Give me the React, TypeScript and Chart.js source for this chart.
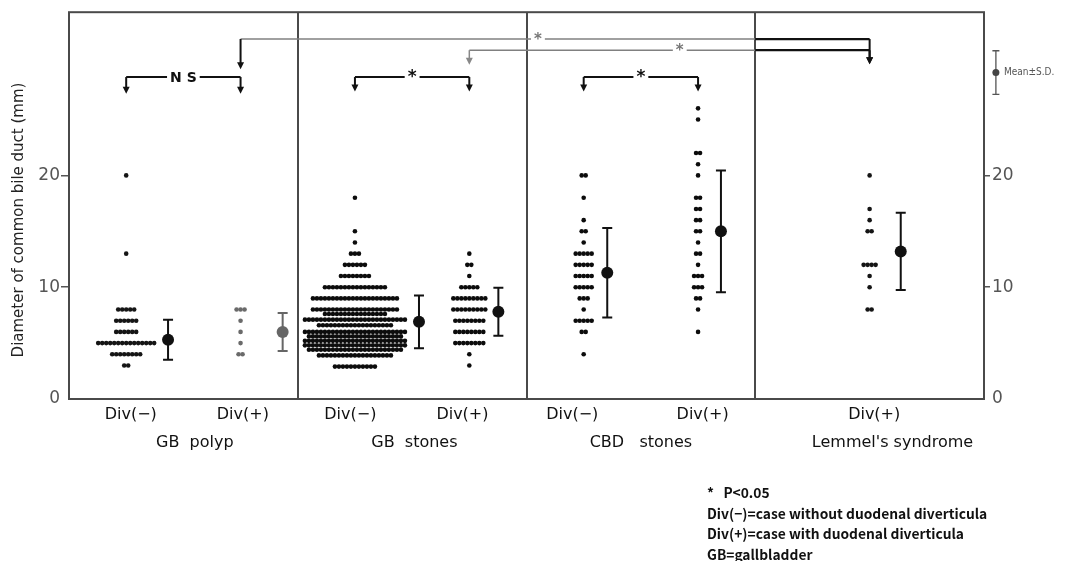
import React, { useEffect, useRef } from 'react';
import Chart from 'chart.js/auto';

// ---- axis / label data ----
const panelNames = ['GB  polyp', 'GB  stones', 'CBD   stones', "Lemmel's syndrome"];
const panelLabelAt = [0.55, 1.51, 2.5, 3.6];
const subgroupLabels = ['Div(−)', 'Div(+)', 'Div(−)', 'Div(+)', 'Div(−)', 'Div(+)', 'Div(+)'];
const subgroupLabelAt = [0.27, 0.76, 1.23, 1.72, 2.2, 2.77, 3.52];
const panelDividers = [1, 2, 3];
const yTicks = [0, 10, 20];
const yMax = 34.6;
const yTitle = 'Diameter of common bile duct (mm)';

// ---- individual cases (value in mm, number of cases at that value) ----
const groupCenters = [0.25, 0.75, 1.25, 1.75, 2.25, 2.75, 3.5];

const gbPolypNegValues = [20, 13, 8, 7, 6, 5, 4, 3];
const gbPolypNegCounts = [1, 1, 5, 6, 6, 15, 8, 2];

const gbPolypPosValues = [8, 7, 6, 5, 4];
const gbPolypPosCounts = [3, 1, 1, 1, 2];

const gbStonesNegValues = [18, 15, 14, 13, 12, 11, 10, 9, 8, 7.6, 7.1, 6.6, 6, 5.6, 5.2, 4.8, 4.4, 3.9, 2.9];
const gbStonesNegCounts = [1, 1, 1, 3, 6, 8, 16, 22, 22, 16, 26, 19, 26, 24, 26, 26, 24, 19, 11];

const gbStonesPosValues = [13, 12, 11, 10, 9, 8, 7, 6, 5, 4, 3];
const gbStonesPosCounts = [1, 2, 1, 5, 9, 9, 8, 8, 8, 1, 1];

const cbdNegValues = [20, 18, 16, 15, 14, 13, 12, 11, 10, 9, 8, 7, 6, 4];
const cbdNegCounts = [2, 1, 1, 2, 1, 5, 5, 5, 5, 3, 1, 5, 2, 1];

const cbdPosValues = [26, 25, 22, 21, 20, 18, 17, 16, 15, 14, 13, 12, 11, 10, 9, 8, 6];
const cbdPosCounts = [1, 1, 2, 1, 1, 2, 2, 2, 2, 1, 2, 1, 3, 3, 2, 1, 1];

const lemmelPosValues = [20, 17, 16, 15, 12, 11, 10, 8];
const lemmelPosCounts = [1, 1, 1, 2, 4, 1, 1, 2];

// ---- mean ± SD ----
const meanAt = [0.433, 0.934, 1.53, 1.877, 2.353, 2.85, 3.636];
const meanValues = [5.3, 6.0, 6.9, 7.8, 11.3, 15.0, 13.2];
const sdValues = [1.8, 1.7, 2.35, 2.15, 4.0, 5.45, 3.45];

// legend sample of mean ± SD
const legendMeanAt = 4.052;
const legendMean = 29.2;
const legendSd = 1.95;

// ---- comparisons ----
const shortComparisons = [
  { from: 0.25, to: 0.75, level: 28.8, tip: 27.3, label: 'N S' },
  { from: 1.25, to: 1.75, level: 28.8, tip: 27.5, label: '*' },
  { from: 2.25, to: 2.75, level: 28.8, tip: 27.5, label: '*' },
];
const longComparisons = [
  { from: 0.75, to: 3.5, level: 32.2, tipFrom: 29.5, tipTo: 29.95, label: '*', labelAt: 2.05, fromColor: '#111' },
  { from: 1.75, to: 3.5, level: 31.2, tipFrom: 29.9, tipTo: 29.95, label: '*', labelAt: 2.67, fromColor: '#888' },
];

const noteLines = ['*   P<0.05', 'Div(−)=case without duodenal diverticula', 'Div(+)=case with duodenal diverticula', 'GB=gallbladder'];

const FONT = '"DejaVu Sans", sans-serif';
const DOT_STEP = 4 / 228.75;

const groupValues = [gbPolypNegValues, gbPolypPosValues, gbStonesNegValues, gbStonesPosValues, cbdNegValues, cbdPosValues, lemmelPosValues];
const groupCounts = [gbPolypNegCounts, gbPolypPosCounts, gbStonesNegCounts, gbStonesPosCounts, cbdNegCounts, cbdPosCounts, lemmelPosCounts];
const groupColors = ['#151515', '#6a6a6a', '#0c0c0c', '#0c0c0c', '#0c0c0c', '#0c0c0c', '#151515'];
const meanColors = ['#111', '#666', '#111', '#111', '#111', '#111', '#111'];

function buildPoints(center: number, values: number[], counts: number[]) {
  const pts: { x: number; y: number }[] = [];
  values.forEach((v, i) => {
    const n = counts[i];
    for (let k = 0; k < n; k++) {
      pts.push({ x: center + (k - (n - 1) / 2) * DOT_STEP, y: v });
    }
  });
  return pts;
}

function arrowDown(ctx: CanvasRenderingContext2D, x: number, yFrom: number, yTip: number, color: string, lw: number) {
  ctx.strokeStyle = color;
  ctx.fillStyle = color;
  ctx.lineWidth = lw;
  ctx.beginPath();
  ctx.moveTo(x, yFrom);
  ctx.lineTo(x, yTip - 5);
  ctx.stroke();
  ctx.beginPath();
  ctx.moveTo(x - 3.5, yTip - 7);
  ctx.lineTo(x + 3.5, yTip - 7);
  ctx.lineTo(x, yTip);
  ctx.closePath();
  ctx.fill();
}

function labelOnLine(ctx: CanvasRenderingContext2D, text: string, x: number, y: number, font: string, color: string) {
  ctx.font = font;
  const w = ctx.measureText(text).width;
  ctx.fillStyle = '#fff';
  ctx.fillRect(x - w / 2 - 3, y - 7, w + 6, 14);
  ctx.fillStyle = color;
  ctx.textAlign = 'center';
  ctx.textBaseline = 'middle';
  ctx.fillText(text, x, y + 1);
}

const decorPlugin = {
  id: 'decor',
  afterDatasetsDraw(chart: any) {
    const { ctx, chartArea: a, scales } = chart;
    const px = (v: number) => scales.x.getPixelForValue(v);
    const py = (v: number) => scales.y.getPixelForValue(v);
    ctx.save();

    // error bars
    meanAt.forEach((m, i) => {
      const x = px(m);
      const t = py(meanValues[i] + sdValues[i]);
      const b = py(meanValues[i] - sdValues[i]);
      ctx.strokeStyle = meanColors[i];
      ctx.lineWidth = 2;
      ctx.beginPath();
      ctx.moveTo(x, t); ctx.lineTo(x, b);
      ctx.moveTo(x - 5, t); ctx.lineTo(x + 5, t);
      ctx.moveTo(x - 5, b); ctx.lineTo(x + 5, b);
      ctx.stroke();
    });

    // frame
    ctx.strokeStyle = '#4a4a4a';
    ctx.lineWidth = 2;
    ctx.strokeRect(a.left, a.top, a.right - a.left, a.bottom - a.top);

    // long comparisons
    longComparisons.forEach((c) => {
      const y = py(c.level);
      const x0 = px(c.from), x1 = px(c.to), xm = px(panelDividers[2]);
      ctx.lineWidth = 1.5;
      ctx.strokeStyle = '#808080';
      ctx.beginPath(); ctx.moveTo(x0, y); ctx.lineTo(xm, y); ctx.stroke();
      ctx.lineWidth = 2.2;
      ctx.strokeStyle = '#111';
      ctx.beginPath(); ctx.moveTo(xm, y); ctx.lineTo(x1, y); ctx.stroke();
      arrowDown(ctx, x0, y, py(c.tipFrom), c.fromColor, c.fromColor === '#111' ? 2 : 1.5);
      arrowDown(ctx, x1, y, py(c.tipTo), '#111', 2);
      labelOnLine(ctx, c.label, px(c.labelAt), y, 'bold 15px ' + FONT, '#777');
    });

    // short comparisons
    shortComparisons.forEach((c) => {
      const y = py(c.level);
      const x0 = px(c.from), x1 = px(c.to);
      ctx.strokeStyle = '#111';
      ctx.lineWidth = 2;
      ctx.beginPath(); ctx.moveTo(x0, y); ctx.lineTo(x1, y); ctx.stroke();
      arrowDown(ctx, x0, y, py(c.tip), '#111', 2);
      arrowDown(ctx, x1, y, py(c.tip), '#111', 2);
      labelOnLine(ctx, c.label, (x0 + x1) / 2, y, c.label === '*' ? 'bold 17px ' + FONT : 'bold 14px ' + FONT, '#111');
    });

    // Mean ± S.D. legend sample
    const lx = px(legendMeanAt);
    const lt = py(legendMean + legendSd), lb = py(legendMean - legendSd), lm = py(legendMean);
    ctx.strokeStyle = '#555';
    ctx.lineWidth = 1.3;
    ctx.beginPath();
    ctx.moveTo(lx, lt); ctx.lineTo(lx, lb);
    ctx.moveTo(lx - 3.5, lt); ctx.lineTo(lx + 3.5, lt);
    ctx.moveTo(lx - 3.5, lb); ctx.lineTo(lx + 3.5, lb);
    ctx.stroke();
    ctx.fillStyle = '#444';
    ctx.beginPath(); ctx.arc(lx, lm, 3.5, 0, Math.PI * 2); ctx.fill();
    ctx.font = '10px "DejaVu Sans Condensed", "DejaVu Sans", sans-serif';
    ctx.fillStyle = '#555';
    ctx.textAlign = 'left';
    ctx.textBaseline = 'middle';
    ctx.fillText('Mean±S.D.', lx + 8, lm);

    // y title
    ctx.save();
    ctx.translate(19, 220);
    ctx.rotate(-Math.PI / 2);
    ctx.font = '15px ' + FONT;
    ctx.fillStyle = '#222';
    ctx.textAlign = 'center';
    ctx.textBaseline = 'middle';
    ctx.fillText(yTitle, 0, 0);
    ctx.restore();

    // notes
    ctx.font = 'bold 13.8px "Noto Sans CJK JP", sans-serif';
    ctx.fillStyle = '#111';
    ctx.textAlign = 'left';
    ctx.textBaseline = 'middle';
    noteLines.forEach((t, i) => {
      ctx.fillText(t, 707, 493 + i * 20.6);
    });

    ctx.restore();
  },
};

export default function App() {
  const ref = useRef<HTMLCanvasElement>(null);
  useEffect(() => {
    if (!ref.current) return;
    const datasets: any[] = groupCenters.map((c, i) => ({
      label: 'group' + i,
      data: buildPoints(c, groupValues[i], groupCounts[i]),
      pointRadius: 2.3,
      pointBorderWidth: 0,
      pointBackgroundColor: groupColors[i],
      showLine: false,
    }));
    datasets.push({
      label: 'mean',
      data: meanAt.map((x, i) => ({ x, y: meanValues[i] })),
      pointRadius: 6,
      pointBorderWidth: 0,
      pointBackgroundColor: meanColors,
      showLine: false,
    });
    const chart = new Chart(ref.current, {
      type: 'scatter',
      data: { datasets },
      options: {
        responsive: false,
        devicePixelRatio: 1,
        animation: false,
        layout: { padding: { top: 10, bottom: 102, left: 0, right: 0 } },
        plugins: { legend: { display: false }, tooltip: { enabled: false } },
        scales: {
          x: {
            type: 'linear', min: 0, max: 4, position: 'bottom', weight: 0,
            afterBuildTicks: (s: any) => {
              s.ticks = [...subgroupLabelAt, ...panelDividers].sort((p, q) => p - q).map((v) => ({ value: v }));
            },
            afterFit: (s: any) => { s.height = 30; },
            ticks: {
              autoSkip: false, maxRotation: 0, padding: 6, color: '#111',
              font: { family: FONT, size: 16 },
              callback: (v: any) => { const i = subgroupLabelAt.indexOf(Number(v)); return i >= 0 ? subgroupLabels[i] : ''; },
            },
            grid: {
              drawTicks: false, lineWidth: 2,
              color: (ctx: any) => (ctx.tick && panelDividers.includes(ctx.tick.value) ? '#4a4a4a' : 'rgba(0,0,0,0)'),
            },
            border: { display: false },
          },
          x2: {
            type: 'linear', min: 0, max: 4, position: 'bottom', weight: 1,
            afterBuildTicks: (s: any) => { s.ticks = panelLabelAt.map((v) => ({ value: v })); },
            afterFit: (s: any) => { s.height = 30; },
            ticks: {
              autoSkip: false, maxRotation: 0, padding: 4, color: '#111',
              font: { family: FONT, size: 16 },
              callback: (_v: any, i: number) => panelNames[i],
            },
            grid: { display: false, drawTicks: false },
            border: { display: false },
          },
          y: {
            type: 'linear', min: 0, max: yMax, position: 'left',
            afterBuildTicks: (s: any) => { s.ticks = yTicks.map((v) => ({ value: v })); },
            afterFit: (s: any) => { s.width = 69; },
            ticks: { padding: 1, color: '#555', font: { family: FONT, size: 17 }, callback: (v: any) => String(v) },
            grid: {
              drawOnChartArea: false, tickLength: 8, lineWidth: 1.5,
              color: (ctx: any) => (ctx.tick && ctx.tick.value === 0 ? 'rgba(0,0,0,0)' : '#555'),
            },
            border: { display: false },
          },
          y2: {
            type: 'linear', min: 0, max: yMax, position: 'right',
            afterBuildTicks: (s: any) => { s.ticks = yTicks.map((v) => ({ value: v })); },
            afterFit: (s: any) => { s.width = 86; },
            ticks: { padding: 2, color: '#555', font: { family: FONT, size: 17 }, callback: (v: any) => String(v) },
            grid: {
              drawOnChartArea: false, tickLength: 6, lineWidth: 1.5,
              color: (ctx: any) => (ctx.tick && ctx.tick.value === 0 ? 'rgba(0,0,0,0)' : '#555'),
            },
            border: { display: false },
          },
        },
      },
      plugins: [decorPlugin],
    } as any);
    return () => chart.destroy();
  }, []);
  return (
    <div style={{ position: 'fixed', left: 0, top: 0, width: 1070, height: 561, background: '#fff' }}>
      <canvas ref={ref} width={1070} height={561} style={{ width: 1070, height: 561, display: 'block' }} />
    </div>
  );
}
